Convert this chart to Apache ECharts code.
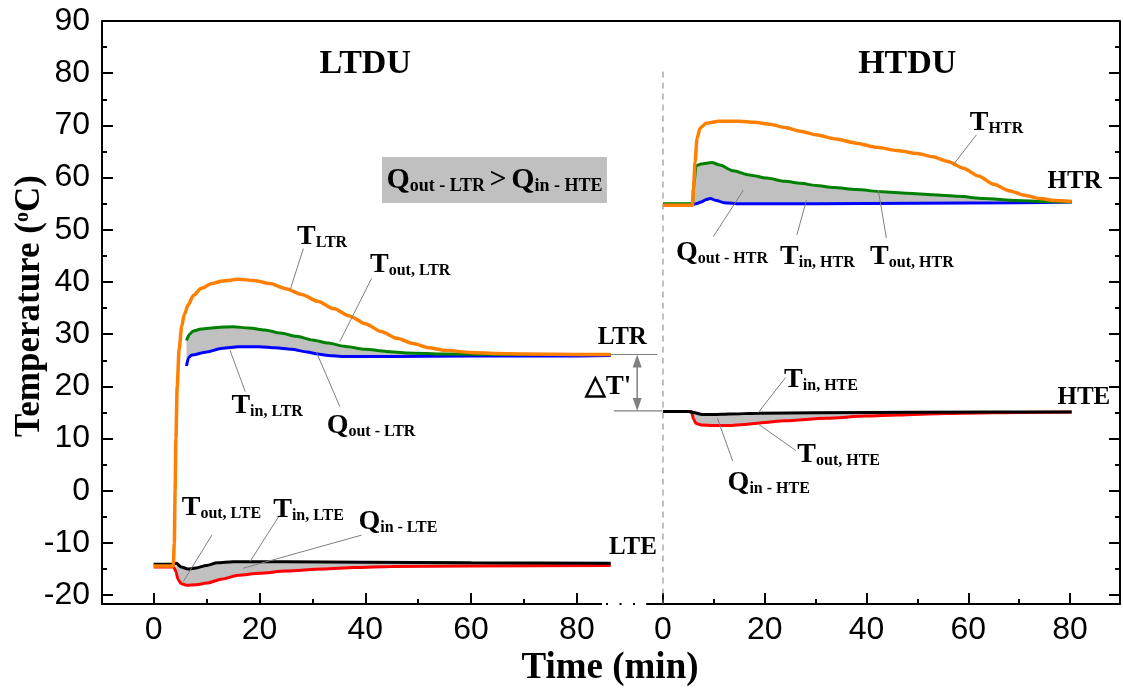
<!DOCTYPE html>
<html><head><meta charset="utf-8">
<script src="https://cdn.jsdelivr.net/npm/echarts@6/dist/echarts.min.js"></script>
<style>html,body{margin:0;padding:0;background:#fff}#c{width:1123px;height:689px}</style>
</head><body><div id="c"></div>
<script>
// ---------------- DATA ----------------
// tick values
const xMajorTicks = [0, 20, 40, 60, 80];
const xMinorTicks = [10, 30, 50, 70];
const yMajorTicks = [-20, -10, 0, 10, 20, 30, 40, 50, 60, 70, 80, 90];
const yMinorTicks = [-15, -5, 5, 15, 25, 35, 45, 55, 65, 75, 85];

// LTDU (left panel): [time min, temperature °C]
const T_LTR = [[0,-14.4],[3.7,-14.4],[3.9,-10],[4.05,0],[4.2,10],[4.45,20],[4.8,27],[5.3,31.5],[5.8,33.8],[6.5,35.6],[7.5,37.4],[9,38.8],[11,39.7],[13,40.2],[16,40.5],[19,40.3],[22,39.7],[25,38.7],[28,37.6],[31,36.3],[34,34.9],[37,33.5],[40,32.0],[43,30.5],[46,29.2],[49,28.2],[52,27.4],[55,26.9],[60,26.5],[65,26.3],[70,26.2],[80,26.1],[86.4,26.1]];
const T_out_LTR = [[6.2,28.8],[6.8,30.0],[7.5,30.6],[9,31.0],[12,31.3],[15,31.4],[18,31.2],[21,30.8],[24,30.2],[27,29.6],[30,28.9],[33,28.3],[36,27.7],[40,27.1],[44,26.7],[48,26.4],[55,26.2],[65,26.1],[86.4,26.1]];
const T_in_LTR = [[6.2,23.9],[6.6,25.5],[7.2,26.0],[10,26.6],[13,27.3],[16,27.6],[20,27.6],[23,27.4],[26,27.1],[29,26.6],[31,26.2],[33,25.9],[36,25.7],[45,25.7],[60,25.8],[75,25.8],[86.4,25.9]];
const T_out_LTE = [[0,-14.6],[3.8,-14.6],[4.2,-15.5],[4.6,-17.0],[5.2,-17.8],[6.2,-18.1],[8,-18.0],[10,-17.7],[13,-16.9],[16,-16.2],[20,-15.8],[25,-15.4],[32,-15.0],[38,-14.7],[45,-14.5],[60,-14.4],[86.4,-14.3]];
const T_in_LTE = [[0,-14.1],[3.6,-14.1],[4.3,-13.9],[5.2,-14.6],[6.5,-15.0],[8,-14.8],[10,-14.3],[12,-13.8],[15,-13.6],[25,-13.6],[40,-13.7],[60,-13.8],[86.4,-13.9]];

// HTDU (right panel)
const T_HTR = [[0,54.7],[5.8,54.7],[6.0,58],[6.3,63],[6.7,67.5],[7.3,69.5],[8.5,70.4],[11,70.8],[15,70.8],[18,70.6],[21,70.2],[24,69.6],[27,68.9],[30,68.2],[34,67.4],[38,66.6],[42,65.8],[46,65.2],[50,64.6],[53,64.0],[56,63.1],[59,61.8],[62,60.3],[65,58.7],[68,57.5],[71,56.6],[74,56.0],[77,55.6],[80.3,55.4]];
const T_out_HTR = [[0,55.0],[5.8,55.0],[6.1,59],[6.5,62.3],[7.5,62.6],[9.6,62.9],[11.2,62.4],[13.8,61.3],[17,60.5],[20.4,59.9],[24,59.3],[27,58.9],[30,58.5],[33.5,58.1],[38,57.7],[43,57.3],[48,57.0],[53,56.7],[58,56.4],[63,56.0],[69.5,55.6],[75,55.4],[80.3,55.3]];
const T_in_HTR = [[0,54.8],[5.8,54.8],[6.5,55.0],[7.5,55.3],[8.5,55.8],[9.3,56.0],[10.5,55.6],[12,55.2],[15,55.0],[30,55.0],[50,55.1],[70,55.2],[80.3,55.3]];
const T_out_HTE = [[0,15.2],[5.6,15.2],[6.0,13.7],[6.5,12.9],[7.5,12.6],[10,12.5],[13,12.5],[16,12.7],[19,13.0],[24,13.4],[32,13.9],[40,14.3],[46,14.5],[52,14.7],[59,14.85],[70,15.0],[80.3,15.1]];
const T_in_HTE = [[0,15.2],[5,15.2],[6,15.0],[7.7,14.6],[10,14.6],[13,14.7],[19,14.85],[30,14.95],[50,15.05],[80.3,15.1]];

// ---------------- LAYOUT / STYLE ----------------
const SERIF = '"Liberation Serif","Times New Roman",serif';
const SANS = '"Liberation Sans",Arial,sans-serif';
const GL = {left:102, top:21, width:510, height:583};
const GR = {left:647, top:21, width:473, height:583};
const LEFT_AXIS_END = 602;
const Y_MIN = -21.7, Y_MAX = 90;
const XL = {min:-9.77, max:86.64};
const XR = {min:-3.14, max:89.8};
const C = {orange:'#FF8000', green:'#008000', blue:'#0000FF', red:'#FF0000', black:'#000000', fill:'#C0C0C0', lead:'#808080'};

function xAx(grid, range, major, withLine, withTicksLong) {
  return {type:'value', gridIndex:grid, position:'bottom', min:range.min, max:range.max,
    axisLine:{show:withLine, onZero:false, lineStyle:{color:'#000', width:2}},
    axisTick:{show:true, inside:true, length:withTicksLong?11:5, customValues:major, lineStyle:{color:'#000', width:2}},
    axisLabel:{show:withTicksLong, customValues:major, color:'#000', fontFamily:SANS, fontSize:32, margin:10},
    splitLine:{show:false}};
}
function yAx(grid, pos, major, withLine, labels) {
  return {type:'value', gridIndex:grid, position:pos, min:Y_MIN, max:Y_MAX,
    axisLine:{show:withLine, onZero:false, lineStyle:{color:'#000', width:2}},
    axisTick:{show:true, inside:true, length:withLine?11:5, customValues:major, lineStyle:{color:'#000', width:2}},
    axisLabel:{show:labels, customValues:major, color:'#000', fontFamily:SANS, fontSize:32, margin:12},
    splitLine:{show:false}};
}
function line(data, color, xi, yi, w) {
  return {type:'line', data, xAxisIndex:xi, yAxisIndex:yi, symbol:'none', showSymbol:false,
    smooth:0.25, smoothMonotone:'x', clip:false, silent:true, z:3,
    lineStyle:{color, width:w}};
}
function fill(upper, lower, t0, xi, yi) {
  const up = upper.filter(p => p[0] >= t0);
  const lo = lower.filter(p => p[0] >= t0).slice().reverse();
  return {type:'custom', xAxisIndex:xi, yAxisIndex:yi, silent:true, z:1, clip:false,
    data:[up[0]],
    renderItem:(params, api) => ({type:'polygon', shape:{points: up.concat(lo).map(p => api.coord(p))}, style:{fill:C.fill}})};
}

const series = [
  fill(T_out_LTR, T_in_LTR, 6.2, 0, 0),
  fill(T_in_LTE, T_out_LTE, 4.2, 0, 0),
  line(T_in_LTR, C.blue, 0, 0, 3),
  line(T_out_LTR, C.green, 0, 0, 3),
  line(T_out_LTE, C.red, 0, 0, 3),
  line(T_in_LTE, C.black, 0, 0, 3),
  line(T_LTR, C.orange, 0, 0, 3.5),
  fill(T_out_HTR, T_in_HTR, 5.8, 2, 2),
  fill(T_in_HTE, T_out_HTE, 5.6, 2, 2),
  line(T_in_HTR, C.blue, 2, 2, 3),
  line(T_out_HTR, C.green, 2, 2, 3),
  line(T_HTR, C.orange, 2, 2, 3.5),
  line(T_out_HTE, C.red, 2, 2, 3),
  line(T_in_HTE, C.black, 2, 2, 3)
];
const REF_L = 6, REF_R = 11;

const chart = echarts.init(document.getElementById('c'));
chart.setOption({
  animation:false, backgroundColor:'#fff',
  grid:[Object.assign({containLabel:false, outerBoundsMode:'none'}, GL), Object.assign({containLabel:false, outerBoundsMode:'none'}, GR)],
  xAxis:[xAx(0, XL, xMajorTicks, false, true), xAx(0, XL, xMinorTicks, false, false), xAx(1, XR, xMajorTicks, true, true), xAx(1, XR, xMinorTicks, false, false)],
  yAxis:[yAx(0,'left', yMajorTicks, true, true), yAx(0,'left', yMinorTicks, false, false), yAx(1,'right', yMajorTicks, true, false), yAx(1,'right', yMinorTicks, false, false)],
  series
});

// ---------------- ANNOTATIONS (data coordinates) ----------------
const P = (g, t, v) => chart.convertToPixel({seriesIndex: g === 'L' ? REF_L : REF_R}, [t, v]);
const subLabels = [
  ['L', 27.1, 48.6, 'T', 'LTR', [[28.3,46.4],[25.8,38.5]]],
  ['L', 40.9, 43.35, 'T', 'out, LTR', [[41.2,40.7],[35.2,28.6]]],
  ['L', 14.7, 16.25, 'T', 'in, LTR', [[17.3,19.0],[14.4,27.0]]],
  ['L', 32.7, 12.4, 'Q', 'out - LTR', [[35.2,16.1],[30.8,26.45]]],
  ['L', 5.3, -3.3, 'T', 'out, LTE', [[11.0,-8.5],[5.6,-17.4]]],
  ['L', 22.6, -3.6, 'T', 'in, LTE', [[23.6,-5.0],[18.2,-13.6]]],
  ['L', 38.7, -6.0, 'Q', 'in - LTE', [[39.3,-8.5],[16.9,-14.85]]],
  ['R', 60.3, 70.5, 'T', 'HTR', [[61.6,68.2],[57.0,62.4]]],
  ['R', 2.55, 45.6, 'Q', 'out - HTR', [[9.9,48.7],[15.8,57.6]]],
  ['R', 23.0, 44.8, 'T', 'in, HTR', [[26.3,49.0],[28.2,55.7]]],
  ['R', 40.7, 44.8, 'T', 'out, HTR', [[43.9,48.4],[42.3,57.6]]],
  ['R', 23.8, 21.2, 'T', 'in, HTE', [[24.1,21.7],[18.7,14.95]]],
  ['R', 26.4, 6.86, 'T', 'out, HTE', [[26.1,7.7],[18.7,12.8]]],
  ['R', 12.7, 1.5, 'Q', 'in - HTE', [[13.7,5.7],[10.7,13.85]]]
];
const plainLabels = [
  ['L', 88.6, 29.3, 'LTR', 25], ['L', 90.6, -10.96, 'LTE', 25],
  ['R', 80.9, 59.2, 'HTR', 25], ['R', 82.7, 17.8, 'HTE', 25],
  ['L', 40.0, 81.8, 'LTDU', 34], ['R', 48.0, 81.8, 'HTDU', 34],
  ['L', 85.9, 19.9, '\u25B3T\'', 27]
];
const richStyle = (bs, ss) => ({
  b:{fontFamily:SERIF, fontWeight:'bold', fontSize:bs, verticalAlign:'bottom', fill:'#000'},
  s:{fontFamily:SERIF, fontWeight:'bold', fontSize:ss, verticalAlign:'bottom', fill:'#000'}
});
const G = [];
subLabels.forEach(([g, t, v, b, s, ld]) => {
  const [x, y] = P(g, t, v);
  G.push({type:'text', x, y, silent:true, z:20, style:{text:`{b|${b}}{s|${s}}`, rich:richStyle(28, 16), align:'left', verticalAlign:'middle'}});
  const a = P(g, ld[0][0], ld[0][1]), c = P(g, ld[1][0], ld[1][1]);
  G.push({type:'line', silent:true, z:15, shape:{x1:a[0], y1:a[1], x2:c[0], y2:c[1]}, style:{stroke:C.lead, lineWidth:1}});
});
plainLabels.forEach(([g, t, v, txt, fs]) => {
  const [x, y] = P(g, t, v);
  G.push({type:'text', x, y, silent:true, z:20, style:{text:txt, fontFamily:SERIF, fontWeight:'bold', fontSize:fs, fill:'#000', align:'center', verticalAlign:'middle'}});
});
// comparison box
{
  const a = P('L', 43.16, 63.95), c = P('L', 85.69, 55.13);
  G.push({type:'rect', silent:true, z:12, shape:{x:a[0], y:a[1], width:c[0]-a[0], height:c[1]-a[1]}, style:{fill:C.fill}});
  G.push({type:'text', x:(a[0]+c[0])/2, y:(a[1]+c[1])/2, silent:true, z:20,
    style:{text:'{b|Q}{s|out - LTR }{b|>}{s| }{b|Q}{s|in - HTE}', rich:richStyle(30, 18), align:'center', verticalAlign:'middle'}});
}
// delta-T' reference lines and double arrow
{
  const l1 = [P('L', 86.4, 26.1), P('L', 95.2, 26.1)], l2 = [P('L', 87.0, 15.3), P('L', 96.2, 15.3)];
  [l1, l2].forEach(l => G.push({type:'line', silent:true, z:15, shape:{x1:l[0][0], y1:l[0][1], x2:l[1][0], y2:l[1][1]}, style:{stroke:C.lead, lineWidth:1.2}}));
  const top = P('L', 91.4, 26.1), bot = P('L', 91.4, 15.3), ah = 13, aw = 4.5;
  G.push({type:'line', silent:true, z:15, shape:{x1:top[0], y1:top[1]+ah-2, x2:bot[0], y2:bot[1]-ah+2}, style:{stroke:C.lead, lineWidth:1.5}});
  G.push({type:'polygon', silent:true, z:15, shape:{points:[[top[0], top[1]], [top[0]-aw, top[1]+ah], [top[0]+aw, top[1]+ah]]}, style:{fill:C.lead}});
  G.push({type:'polygon', silent:true, z:15, shape:{points:[[bot[0], bot[1]], [bot[0]-aw, bot[1]-ah], [bot[0]+aw, bot[1]-ah]]}, style:{fill:C.lead}});
}
// dashed separator at HTDU t = 0
{
  const a = P('R', 0, 80.3), c = P('R', 0, Y_MIN);
  G.push({type:'line', silent:true, z:2, shape:{x1:a[0], y1:a[1], x2:c[0], y2:c[1]}, style:{stroke:'#808080', lineWidth:1, lineDash:[6,5]}});
}
// frame: top line, left-panel bottom axis line and axis break dots
const yBottom = GL.top + GL.height;
G.push({type:'line', silent:true, z:5, shape:{x1:GL.left, y1:GL.top, x2:GR.left+GR.width, y2:GL.top}, style:{stroke:'#000', lineWidth:2}});
G.push({type:'line', silent:true, z:5, shape:{x1:GL.left-1, y1:yBottom, x2:LEFT_AXIS_END, y2:yBottom}, style:{stroke:'#000', lineWidth:2}});
G.push({type:'line', silent:true, z:5, shape:{x1:LEFT_AXIS_END+4, y1:yBottom, x2:GR.left, y2:yBottom}, style:{stroke:'#000', lineWidth:2, lineDash:[2,11.5]}});
// axis titles
G.push({type:'text', x:(GL.left+GR.left+GR.width)/2 - 1, y:668, silent:true, z:20, style:{text:'Time (min)', fontFamily:SERIF, fontWeight:'bold', fontSize:37, fill:'#000', align:'center', verticalAlign:'middle'}});
G.push({type:'text', x:30, y:306, rotation:Math.PI/2, silent:true, z:20, style:{text:'{a|Temperature (}{o|o}{a|C)}', align:'center', verticalAlign:'middle',
  rich:{a:{fontFamily:SERIF, fontWeight:'bold', fontSize:35, fill:'#000', verticalAlign:'bottom'}, o:{fontFamily:SERIF, fontWeight:'bold', fontSize:20, fill:'#000', verticalAlign:'top'}}}});
chart.setOption({graphic:G});
</script>
</body></html>
